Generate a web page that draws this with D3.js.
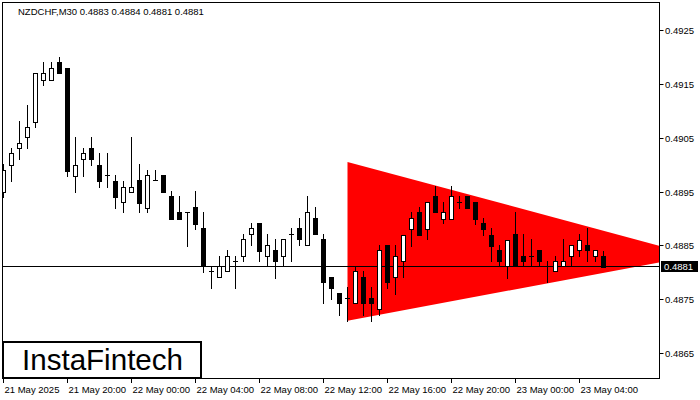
<!DOCTYPE html>
<html>
<head>
<meta charset="utf-8">
<script src="https://cdn.jsdelivr.net/npm/d3@7"></script>
<style>
html,body{margin:0;padding:0;background:#fff;}
svg{display:block;}
text{font-family:"Liberation Sans",Arial,sans-serif;}
</style>
</head>
<body>
<svg id="chart" width="700" height="400"></svg>
<script>
// ---- data ----
const symbolTitle = "NZDCHF,M30  0.4883 0.4884 0.4881 0.4881";
const open  = [0.48950,0.49000,0.49030,0.49051,0.49080,0.49158,0.49158,0.49190,0.49179,0.48979,
               0.49010,0.49030,0.49000,0.48980,0.48970,0.48930,0.48950,0.48971,0.48920,0.48971,
               0.48981,0.48942,0.48912,0.48912,0.48921,0.48882,0.48802,0.48791,0.48802,0.48820,
               0.48831,0.48871,0.48892,0.48831,0.48841,0.48831,0.48871,0.48882,0.48851,0.48901,
               0.48861,0.48791,0.48761,0.48752,0.48742,0.48791,0.48752,0.48731,0.48850,0.48791,
               0.48820,0.48881,0.48912,0.48881,0.48942,0.48899,0.48899,0.48930,0.48942,0.48930,
               0.48891,0.48870,0.48841,0.48811,0.48871,0.48831,0.48831,0.48841,0.48811,0.48802,
               0.48811,0.48831,0.48841,0.48850,0.48831,0.48830];
const high  = [0.49001,0.49030,0.49081,0.49111,0.49170,0.49190,0.49190,0.49200,0.49179,0.49051,
               0.49030,0.49051,0.49021,0.49021,0.48980,0.48970,0.49052,0.49001,0.48990,0.48990,
               0.48981,0.48951,0.48942,0.48912,0.48951,0.48912,0.48811,0.48831,0.48841,0.48831,
               0.48871,0.48892,0.48892,0.48871,0.48861,0.48861,0.48882,0.48901,0.48942,0.48921,
               0.48871,0.48791,0.48761,0.48773,0.48811,0.48802,0.48773,0.48850,0.48850,0.48850,
               0.48870,0.48912,0.48921,0.48930,0.48960,0.48930,0.48960,0.48942,0.48942,0.48930,
               0.48901,0.48882,0.48850,0.48860,0.48912,0.48871,0.48861,0.48841,0.48821,0.48831,
               0.48861,0.48850,0.48871,0.48882,0.48841,0.48840];
const low   = [0.48940,0.48970,0.49010,0.49030,0.49069,0.49148,0.49158,0.49170,0.48979,0.48950,
               0.48979,0.48999,0.48959,0.48959,0.48920,0.48911,0.48950,0.48911,0.48911,0.48971,
               0.48950,0.48899,0.48899,0.48849,0.48881,0.48801,0.48771,0.48791,0.48802,0.48771,
               0.48821,0.48851,0.48820,0.48811,0.48790,0.48811,0.48820,0.48851,0.48851,0.48871,
               0.48742,0.48751,0.48721,0.48710,0.48742,0.48721,0.48710,0.48721,0.48771,0.48760,
               0.48791,0.48849,0.48870,0.48861,0.48911,0.48891,0.48899,0.48920,0.48920,0.48890,
               0.48870,0.48820,0.48812,0.48790,0.48811,0.48811,0.48811,0.48811,0.48781,0.48802,
               0.48811,0.48811,0.48831,0.48820,0.48820,0.48810];
const close = [0.48990,0.49021,0.49040,0.49069,0.49170,0.49170,0.49179,0.49170,0.48989,0.49000,
               0.49021,0.49010,0.48970,0.48980,0.48940,0.48959,0.48959,0.48929,0.48981,0.48971,
               0.48950,0.48899,0.48899,0.48912,0.48890,0.48811,0.48802,0.48811,0.48831,0.48820,
               0.48861,0.48882,0.48840,0.48850,0.48820,0.48861,0.48871,0.48861,0.48911,0.48871,
               0.48781,0.48771,0.48742,0.48752,0.48802,0.48742,0.48742,0.48841,0.48781,0.48831,
               0.48870,0.48900,0.48870,0.48930,0.48911,0.48911,0.48942,0.48930,0.48920,0.48899,
               0.48880,0.48849,0.48820,0.48860,0.48811,0.48820,0.48831,0.48820,0.48811,0.48821,
               0.48821,0.48850,0.48860,0.48841,0.48841,0.48810];
const xTickLabels = ["21 May 2025","21 May 20:00","22 May 00:00","22 May 04:00","22 May 08:00",
                     "22 May 12:00","22 May 16:00","22 May 20:00","23 May 00:00","23 May 04:00"];
const xTickBars = [0,8,16,24,32,40,48,56,64,72];
const yTicks = [0.4865,0.4875,0.4885,0.4895,0.4905,0.4915,0.4925];
const triangleBars   = [43, 86.55, 43];
const trianglePrices = [0.49005, 0.48831, 0.48710];
const lastPrice = 0.4881;
const logoText = "InstaFintech";

// ---- layout ----
const svg = d3.select("#chart");
const plot = {left:2, top:2, right:659, bottom:378};
const x = d3.scaleLinear().domain([0, 75]).range([3, 603]);
const y = d3.scaleLinear().domain([0.4865, 0.4925]).range([353, 30]);
const px = v => Math.round(x(v));
const py = v => Math.round(y(v));

svg.append("clipPath").attr("id","plotclip").append("rect")
  .attr("x", plot.left).attr("y", plot.top)
  .attr("width", plot.right-plot.left).attr("height", plot.bottom-plot.top);

const g = svg.append("g").attr("clip-path","url(#plotclip)");

// triangle pattern
const triPts = triangleBars.map((b,i)=>[x(b)+0.5, y(trianglePrices[i])]);
g.append("path")
  .attr("d", d3.line()(triPts) + "Z")
  .attr("fill", "#ff0000");

// last price line
const lpY = Math.floor(y(lastPrice)) + 0.5;
g.append("line").attr("x1", plot.left).attr("x2", plot.right)
  .attr("y1", lpY).attr("y2", lpY).attr("stroke","#000").attr("stroke-width",1);

// candles
const idx = d3.range(open.length);
const cg = g.append("g");
idx.forEach(i=>{
  const cx = px(i) + 0.5;
  const yH = py(high[i]), yL = py(low[i]);
  const yO = py(open[i]), yC = py(close[i]);
  const top = Math.min(yO,yC), bot = Math.max(yO,yC);
  // wick
  cg.append("line").attr("x1",cx).attr("x2",cx)
    .attr("y1",yH).attr("y2",yL+1).attr("stroke","#000").attr("stroke-width",1);
  if (bot - top < 1) {
    cg.append("line").attr("x1",cx-2.5).attr("x2",cx+2.5)
      .attr("y1",top+0.5).attr("y2",top+0.5).attr("stroke","#000").attr("stroke-width",1);
  } else {
    const bull = close[i] > open[i];
    cg.append("rect")
      .attr("x", cx-2).attr("y", top+0.5)
      .attr("width", 4).attr("height", bot-top)
      .attr("fill", bull ? "#fff" : "#000")
      .attr("stroke","#000").attr("stroke-width",1);
  }
});

// frame
svg.append("rect").attr("x", plot.left+0.5).attr("y", plot.top+0.5)
  .attr("width", plot.right-plot.left).attr("height", plot.bottom-plot.top)
  .attr("fill","none").attr("stroke","#000").attr("stroke-width",1);

// right axis
yTicks.forEach(t=>{
  const yy = Math.round(y(t)) + 0.5;
  svg.append("line").attr("x1", plot.right+0.5).attr("x2", plot.right+4.5)
    .attr("y1", yy).attr("y2", yy).attr("stroke","#000");
  svg.append("text").attr("x", 665).attr("y", yy+3.5)
    .attr("font-size", "9.5px").attr("fill","#000").text(t.toFixed(4));
});

// last price label
svg.append("rect").attr("x", 661).attr("y", lpY-5.5).attr("width", 37).attr("height", 11).attr("fill","#000");
svg.append("text").attr("x", 664).attr("y", lpY+3.5).attr("font-size","9.5px")
  .attr("fill","#fff").text(lastPrice.toFixed(4));

// bottom axis
xTickBars.forEach((b,i)=>{
  const xx = px(b) + 0.5;
  svg.append("line").attr("x1", xx).attr("x2", xx)
    .attr("y1", plot.bottom+0.5).attr("y2", plot.bottom+5).attr("stroke","#000");
  svg.append("text").attr("x", xx+1).attr("y", 393)
    .attr("font-size","9.5px").attr("fill","#000").text(xTickLabels[i]);
});

// title
svg.append("text").attr("x", 18).attr("y", 15).attr("font-size","9.5px")
  .attr("fill","#000").text(symbolTitle);

// logo
svg.append("rect").attr("x", 3).attr("y", 342).attr("width", 198).attr("height", 36)
  .attr("fill","#fff").attr("stroke","#000").attr("stroke-width",2);
svg.append("text").attr("x", 22).attr("y", 370).attr("font-size","29px")
  .attr("fill","#000").attr("textLength",161).attr("lengthAdjust","spacingAndGlyphs").text(logoText);
</script>
</body>
</html>
